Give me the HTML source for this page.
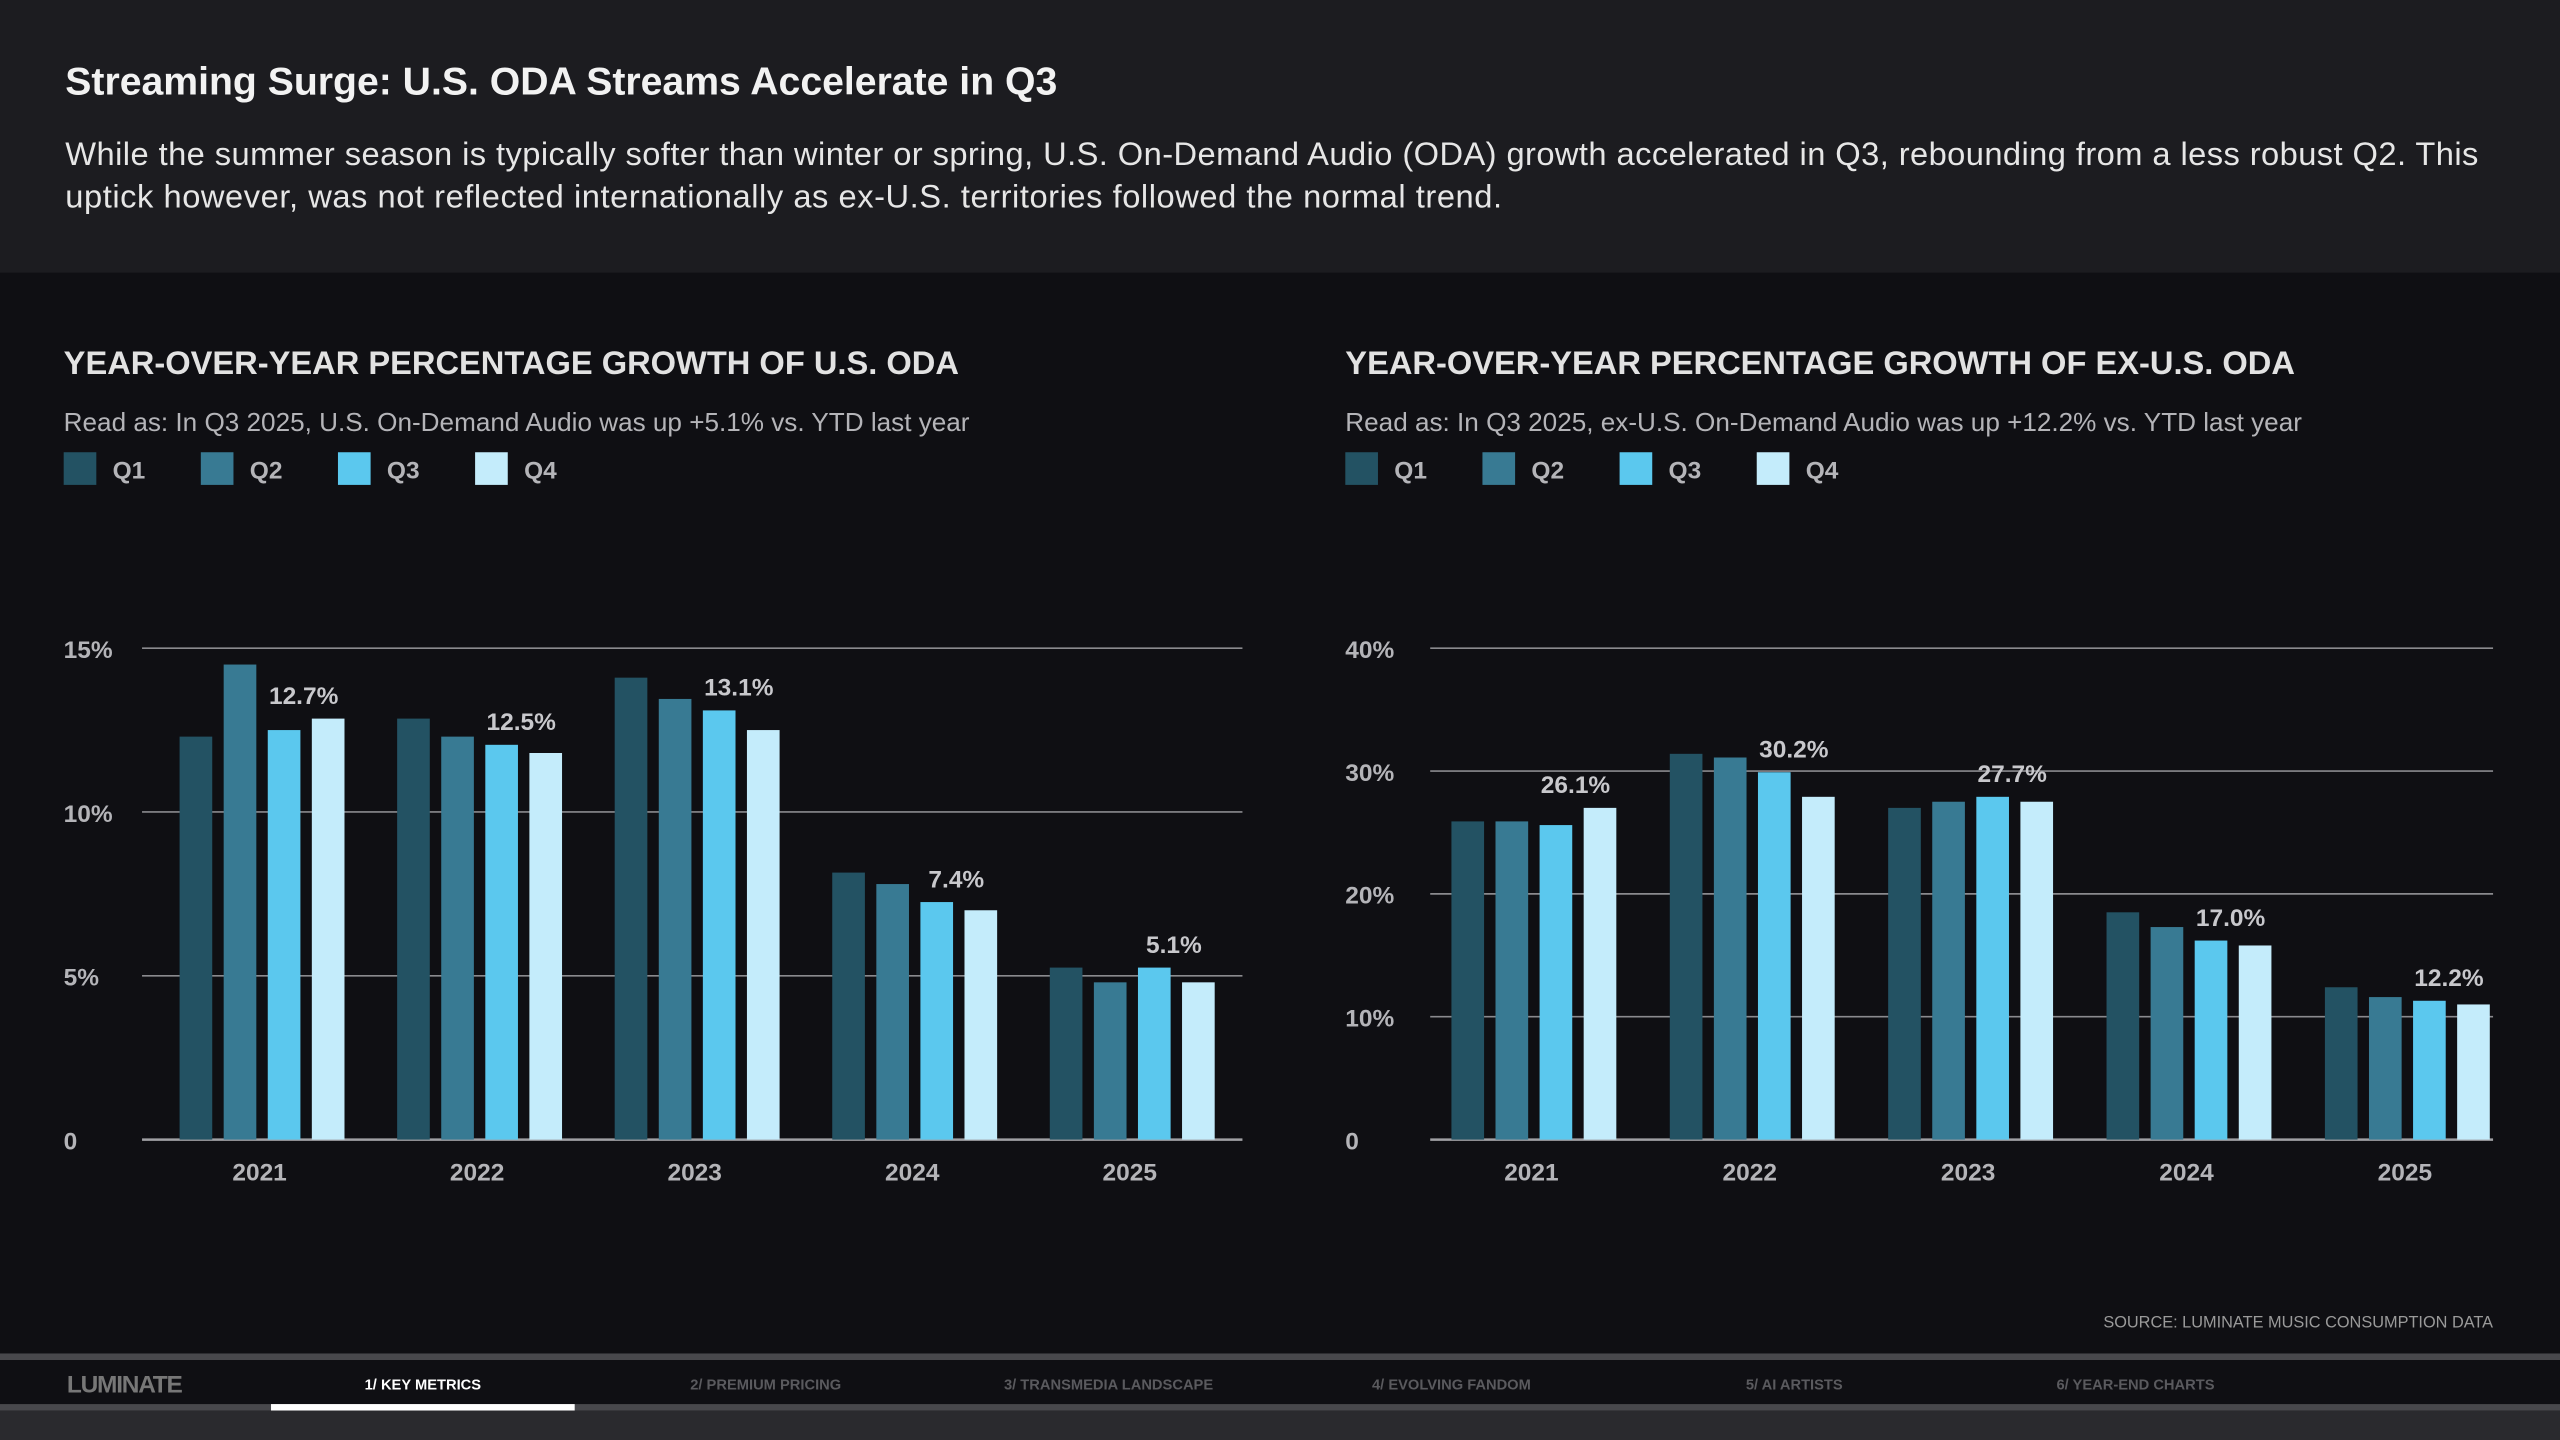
<!DOCTYPE html>
<html><head><meta charset="utf-8"><style>
html,body{margin:0;padding:0;background:#0f0f13;width:2560px;height:1440px;overflow:hidden}
svg{display:block;font-family:"Liberation Sans",sans-serif}
</style></head><body>
<svg id="root" width="2560" height="1440" viewBox="0 0 1568 882">
<rect x="0" y="0" width="1568" height="167" fill="#1c1c20"/>
<text x="40" y="58" fill="#f2f2f2" font-size="24" font-weight="bold">Streaming Surge: U.S. ODA Streams Accelerate in Q3</text>
<text x="40" y="101" fill="#e6e6e6" font-size="20" textLength="1478">While the summer season is typically softer than winter or spring, U.S. On-Demand Audio (ODA) growth accelerated in Q3, rebounding from a less robust Q2. This</text>
<text x="40" y="127" fill="#e6e6e6" font-size="20" textLength="880">uptick however, was not reflected internationally as ex-U.S. territories followed the normal trend.</text>
<g id="charts"></g>
<text x="1527" y="813" text-anchor="end" fill="#9a9a9a" font-size="10">SOURCE: LUMINATE MUSIC CONSUMPTION DATA</text>
<rect x="0" y="829" width="1568" height="4" fill="#48484c"/>
<rect x="0" y="833" width="1568" height="27" fill="#0f0f13"/>
<rect x="0" y="860" width="1568" height="4" fill="#48484c"/>
<rect x="166" y="860" width="186" height="4" fill="#ffffff"/>
<rect x="0" y="864" width="1568" height="18" fill="#2a2a2e"/>
<text x="41" y="853" fill="#777" font-size="15" font-weight="bold" textLength="71">LUMINATE</text>
<text x="259" y="851" text-anchor="middle" fill="#ffffff" font-size="9" font-weight="bold">1/ KEY METRICS</text>
<text x="469" y="851" text-anchor="middle" fill="#5a5a5e" font-size="9" font-weight="bold">2/ PREMIUM PRICING</text>
<text x="679" y="851" text-anchor="middle" fill="#5a5a5e" font-size="9" font-weight="bold">3/ TRANSMEDIA LANDSCAPE</text>
<text x="889" y="851" text-anchor="middle" fill="#5a5a5e" font-size="9" font-weight="bold">4/ EVOLVING FANDOM</text>
<text x="1099" y="851" text-anchor="middle" fill="#5a5a5e" font-size="9" font-weight="bold">5/ AI ARTISTS</text>
<text x="1308" y="851" text-anchor="middle" fill="#5a5a5e" font-size="9" font-weight="bold">6/ YEAR-END CHARTS</text>
</svg>
<script>
const years = ["2021","2022","2023","2024","2025"];
const quarters = ["Q1","Q2","Q3","Q4"];
const usQ1 = [12.3, 12.85, 14.1, 8.15, 5.25];
const usQ2 = [14.5, 12.3, 13.45, 7.8, 4.8];
const usQ3 = [12.5, 12.05, 13.1, 7.25, 5.25];
const usQ4 = [12.85, 11.8, 12.5, 7.0, 4.8];
const usLabels = ["12.7%","12.5%","13.1%","7.4%","5.1%"];
const usTicks = [0,5,10,15];
const usTickLabels = ["0","5%","10%","15%"];
const exQ1 = [25.9, 31.4, 27.0, 18.5, 12.4];
const exQ2 = [25.9, 31.1, 27.5, 17.3, 11.6];
const exQ3 = [25.6, 29.9, 27.9, 16.2, 11.3];
const exQ4 = [27.0, 27.9, 27.5, 15.8, 11.0];
const exLabels = ["26.1%","30.2%","27.7%","17.0%","12.2%"];
const exTicks = [0,10,20,30,40];
const exTickLabels = ["0","10%","20%","30%","40%"];
const colors = ["#235263","#387a93","#5bc8ee","#c4ecfb"];
const NS="http://www.w3.org/2000/svg";
const root=document.getElementById("charts");
function mk(tag,attrs,parent,text){const e=document.createElementNS(NS,tag);for(const k in attrs)e.setAttribute(k,attrs[k]);if(text!==undefined)e.textContent=text;(parent||root).appendChild(e);return e;}
function chart(ox,x0,x1,c0,c1,max,ticks,tickLabels,series,labels,title,sub,prefix){
  const y0=698,yTop=397;
  const ys=v=>y0-(v/max)*(y0-yTop);
  const cx=i=>c0+(c1-c0)*i/(years.length-1);
  const g=mk("g",{});
  
  
  const t=mk("text",{x:ox,y:229,fill:"#e2e2e2","font-size":20,"font-weight":"bold"},g,title);
  
  
  const s=mk("text",{x:ox,y:264,fill:"#b4b4b8","font-size":16},g,sub);
  
  
  quarters.forEach((q,k)=>{
    const lx=ox+k*84;
    const r=mk("rect",{x:lx,y:277,width:20,height:20,fill:colors[k]},g);
    
    
    const lt=mk("text",{x:lx+30,y:293,fill:"#b4b4b8","font-size":15,"font-weight":"bold"},g,q);
    
    
  });
  ticks.forEach((v,i)=>{
    const y=ys(v);
    const l=mk("line",{x1:x0,x2:x1,y1:y,y2:y,stroke:i===0?"#a0a0a4":"#8a8a8e","stroke-width":i===0?1.5:1},g);
    
    
    const tl=mk("text",{x:ox,y:y+6,fill:"#b4b4b8","font-size":15,"font-weight":"bold"},g,tickLabels[i]);
    
    
  });
  years.forEach((yr,i)=>{
    const c=cx(i);
    series.forEach((arr,k)=>{
      const bx=c-49+k*27;
      const b=mk("rect",{x:bx,y:ys(arr[i]),width:20,height:y0-ys(arr[i]),fill:colors[k]},g);
      
      
    });
    const top=Math.max(series[2][i],series[3][i]);
    const lab=mk("text",{x:c+27,y:ys(top)-9,"text-anchor":"middle",fill:"#c8c8cc","font-size":15,"font-weight":"bold"},g,labels[i]);
    
    
    const xl=mk("text",{x:c,y:723,"text-anchor":"middle",fill:"#b4b4b8","font-size":15,"font-weight":"bold"},g,yr);
    
    
  });
}
chart(39,87,761,159,692,15,usTicks,usTickLabels,[usQ1,usQ2,usQ3,usQ4],usLabels,"YEAR-OVER-YEAR PERCENTAGE GROWTH OF U.S. ODA","Read as: In Q3 2025, U.S. On-Demand Audio was up +5.1% vs. YTD last year","us");
chart(824,876,1527,938,1473,40,exTicks,exTickLabels,[exQ1,exQ2,exQ3,exQ4],exLabels,"YEAR-OVER-YEAR PERCENTAGE GROWTH OF EX-U.S. ODA","Read as: In Q3 2025, ex-U.S. On-Demand Audio was up +12.2% vs. YTD last year","ex");
</script>
</body></html>
